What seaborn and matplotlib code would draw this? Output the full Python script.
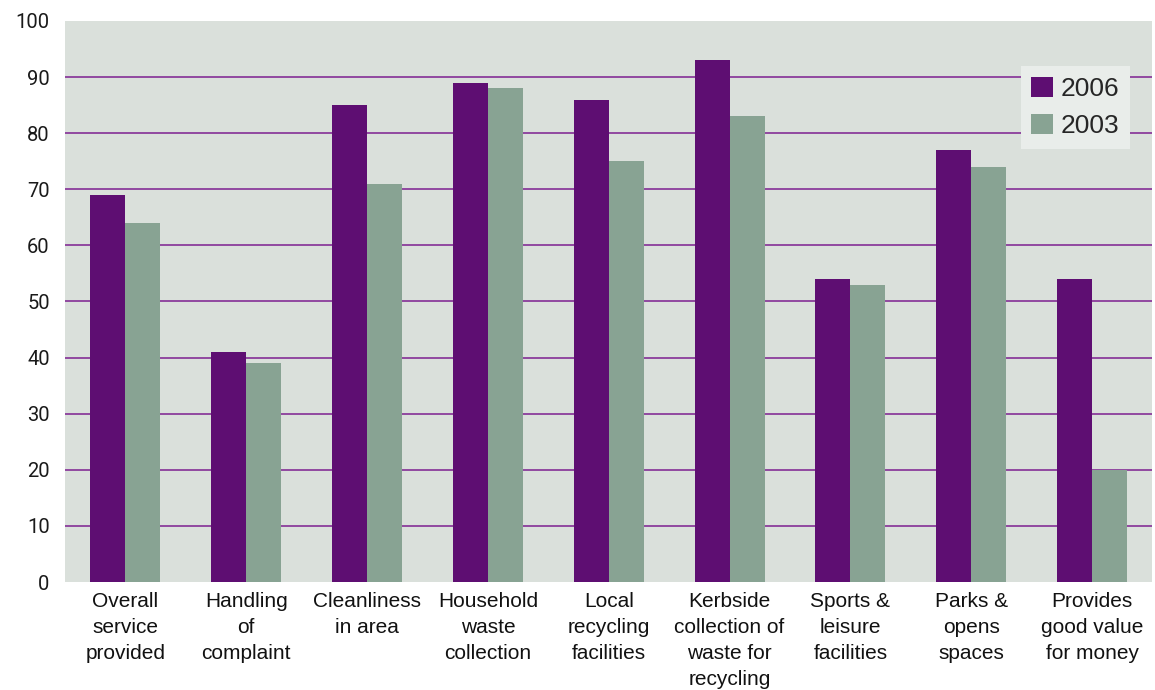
import matplotlib
matplotlib.use("Agg")
import matplotlib.pyplot as plt
import seaborn as sns
import pandas as pd

categories = [
    "Overall\nservice\nprovided",
    "Handling\nof\ncomplaint",
    "Cleanliness\nin area",
    "Household\nwaste\ncollection",
    "Local\nrecycling\nfacilities",
    "Kerbside\ncollection of\nwaste for\nrecycling",
    "Sports &\nleisure\nfacilities",
    "Parks &\nopens\nspaces",
    "Provides\ngood value\nfor money",
]
values_2006 = [69, 41, 85, 89, 86, 93, 54, 77, 54]
values_2003 = [64, 39, 71, 88, 75, 83, 53, 74, 20]
series = ["2006", "2003"]
y_ticks = [0, 10, 20, 30, 40, 50, 60, 70, 80, 90, 100]

df = pd.DataFrame({
    "category": categories * 2,
    "value": values_2006 + values_2003,
    "year": [series[0]] * len(categories) + [series[1]] * len(categories),
})

sns.set_theme(style="white")
plt.rcParams["font.family"] = ["Liberation Sans", "DejaVu Sans"]

fig = plt.figure(figsize=(11.55, 6.9), dpi=100)
ax = fig.add_axes([0.0563, 0.1565, 0.9415, 0.8131])
ax.set_facecolor("#dae0db")

palette = {"2006": "#5e0e72", "2003": "#88a393"}
sns.barplot(data=df, x="category", y="value", hue="year", hue_order=series,
            palette=palette, width=0.58, saturation=1, ax=ax, zorder=3,
            linewidth=0, errorbar=None)

ax.set_ylim(0, 100)
ax.set_xlim(-0.5, len(categories) - 0.5)
ax.set_yticks(y_ticks)
for y in y_ticks[1:-1]:
    ax.axhline(y, color="#9048a0", linewidth=1.4, zorder=1)

for s in ax.spines.values():
    s.set_visible(False)
ax.tick_params(axis="both", length=0)
ax.tick_params(axis="y", pad=11)
ax.tick_params(axis="x", pad=7.5)
for lbl in ax.get_yticklabels():
    lbl.set_fontfamily(["Roboto", "DejaVu Sans"])
    lbl.set_fontsize(14.5)
    lbl.set_color("#1a1a1a")
for lbl in ax.get_xticklabels():
    lbl.set_fontsize(15)
    lbl.set_color("#111111")
    lbl.set_linespacing(1.46)
ax.set_xlabel("")
ax.set_ylabel("")

leg = ax.legend(title=None, loc="upper right", bbox_to_anchor=(0.979, 0.9198),
                fontsize=19, frameon=True, fancybox=False, handlelength=0.8,
                handleheight=0.8, handletextpad=0.3, labelspacing=0.5,
                borderpad=0.4, borderaxespad=0)
leg.get_frame().set_facecolor("#e9edea")
leg.get_frame().set_edgecolor("none")
leg.get_frame().set_alpha(1)

fig.savefig("out.png", dpi=100, facecolor="white")
